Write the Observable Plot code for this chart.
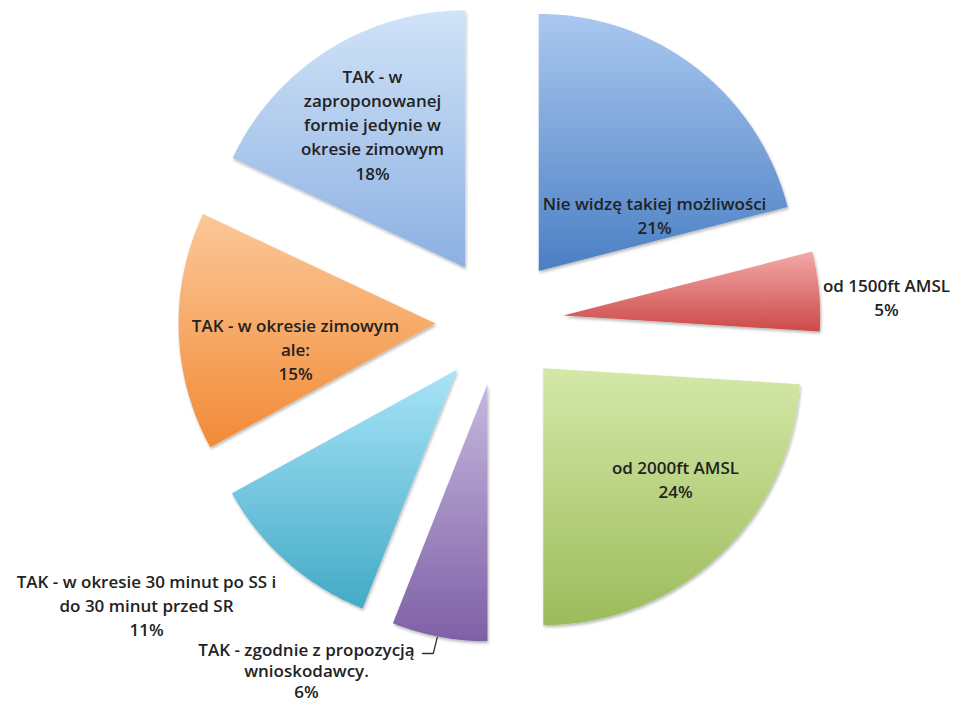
<!DOCTYPE html>
<html><head><meta charset="utf-8">
<script src="https://cdn.jsdelivr.net/npm/d3@7"></script>
<script src="https://cdn.jsdelivr.net/npm/@observablehq/plot@0.6"></script>
<style>body{margin:0;background:#fff;} svg{display:block}</style>
</head><body><div id="chart"></div>
<script>
// ---- data ----
const categories = [
  "Nie widzę takiej możliwości",
  "od 1500ft AMSL",
  "od 2000ft AMSL",
  "TAK - zgodnie z propozycją\nwnioskodawcy.",
  "TAK - w okresie 30 minut po SS i\ndo 30 minut przed SR",
  "TAK - w okresie zimowym\nale:",
  "TAK - w\nzaproponowanej\nformie jedynie w\nokresie zimowym"
];
const values = [21, 5, 24, 6, 11, 15, 18];
const percentLabels = ["21%", "5%", "24%", "6%", "11%", "15%", "18%"];
const colorsTop    = ["#aac8ef", "#f3aaa8", "#d4e8a8", "#c6b8de", "#a8e4f7", "#fbc898", "#d0e3f8"];
const colorsBottom = ["#4a7fc4", "#cc4a48", "#9cbc5a", "#7e60a6", "#42aac6", "#f28a36", "#8cb0e2"];
// label block centres (pixel space)
const labelX = [654, 886, 675, 306, 146, 295, 372];
const labelY = [214, 296, 478, 670, 604, 348, 123];

// ---- layout ----
const W = 957, H = 704;
const CX = 499, CY = 321, R = 257, EXPLODE = 64;

const arcs = d3.pie().sort(null).value(d => d)(values);
const slices = arcs.map((a, i) => {
  const mid = (a.startAngle + a.endAngle) / 2;
  const ax = CX + EXPLODE * Math.sin(mid), ay = CY - EXPLODE * Math.cos(mid);
  const pts = [{x: ax, y: ay}];
  const n = Math.max(8, Math.ceil((a.endAngle - a.startAngle) / (Math.PI / 360)));
  for (let k = 0; k <= n; k++) {
    const t = a.startAngle + (a.endAngle - a.startAngle) * k / n;
    pts.push({x: ax + R * Math.sin(t), y: ay - R * Math.cos(t)});
  }
  pts.push({x: ax, y: ay});
  return {i, pts, ax, ay, a};
});

const labels = categories.map((c, i) => ({i, text: c + "\n" + percentLabels[i], x: labelX[i], y: labelY[i]}));

// leader line for the small purple slice: from label end to slice arc
const p = slices[3];
const leaderAngle = p.a.startAngle + (p.a.endAngle - p.a.startAngle) * 0.52;
const leaderEnd = {x: p.ax + (R + 1) * Math.sin(leaderAngle), y: p.ay - (R + 1) * Math.cos(leaderAngle)};
const leader = [
  {x: labelX[3] + 116, y: labelY[3] - 17},
  {x: leaderEnd.x - 4, y: labelY[3] - 17},
  {x: leaderEnd.x, y: leaderEnd.y}
];

const font = {fontSize: 17, fontWeight: 600, fill: "#222", fontFamily: "'Open Sans', Lato, sans-serif", textAnchor: "middle"};

const chart = Plot.plot({
  width: W, height: H,
  margin: 0,
  x: {domain: [0, W], range: [0, W], axis: null},
  y: {domain: [0, H], range: [0, H], axis: null},
  style: {background: "#fff"},
  marks: [
    ...slices.map(s => Plot.line(s.pts, {x: "x", y: "y", fill: `url(#grad${s.i})`, stroke: "none", curve: "linear"})),
    Plot.line(leader, {x: "x", y: "y", stroke: "#333", strokeWidth: 1.3}),
    Plot.text(labels.filter(d => d.i !== 3), {x: "x", y: "y", text: "text", lineHeight: 1.42, ...font}),
    Plot.text(labels.filter(d => d.i === 3), {x: "x", y: "y", text: "text", lineHeight: 1.22, ...font})
  ]
});

const svg = d3.select(chart);
const defs = svg.insert("defs", ":first-child");
colorsTop.forEach((c, i) => {
  const g = defs.append("linearGradient").attr("id", `grad${i}`).attr("x1", 0).attr("y1", 0).attr("x2", 0).attr("y2", 1);
  g.append("stop").attr("offset", "0%").attr("stop-color", c);
  g.append("stop").attr("offset", "100%").attr("stop-color", colorsBottom[i]);
});
const f = defs.append("filter").attr("id", "shadow").attr("x", "-10%").attr("y", "-10%").attr("width", "130%").attr("height", "130%");
f.append("feDropShadow").attr("dx", 1).attr("dy", 2).attr("stdDeviation", 1.6).attr("flood-color", "#000").attr("flood-opacity", 0.28);
svg.selectAll("g[aria-label=line]").filter((d, i, n) => i < slices.length).attr("filter", "url(#shadow)");

document.getElementById("chart").append(chart);
</script>
</body></html>
